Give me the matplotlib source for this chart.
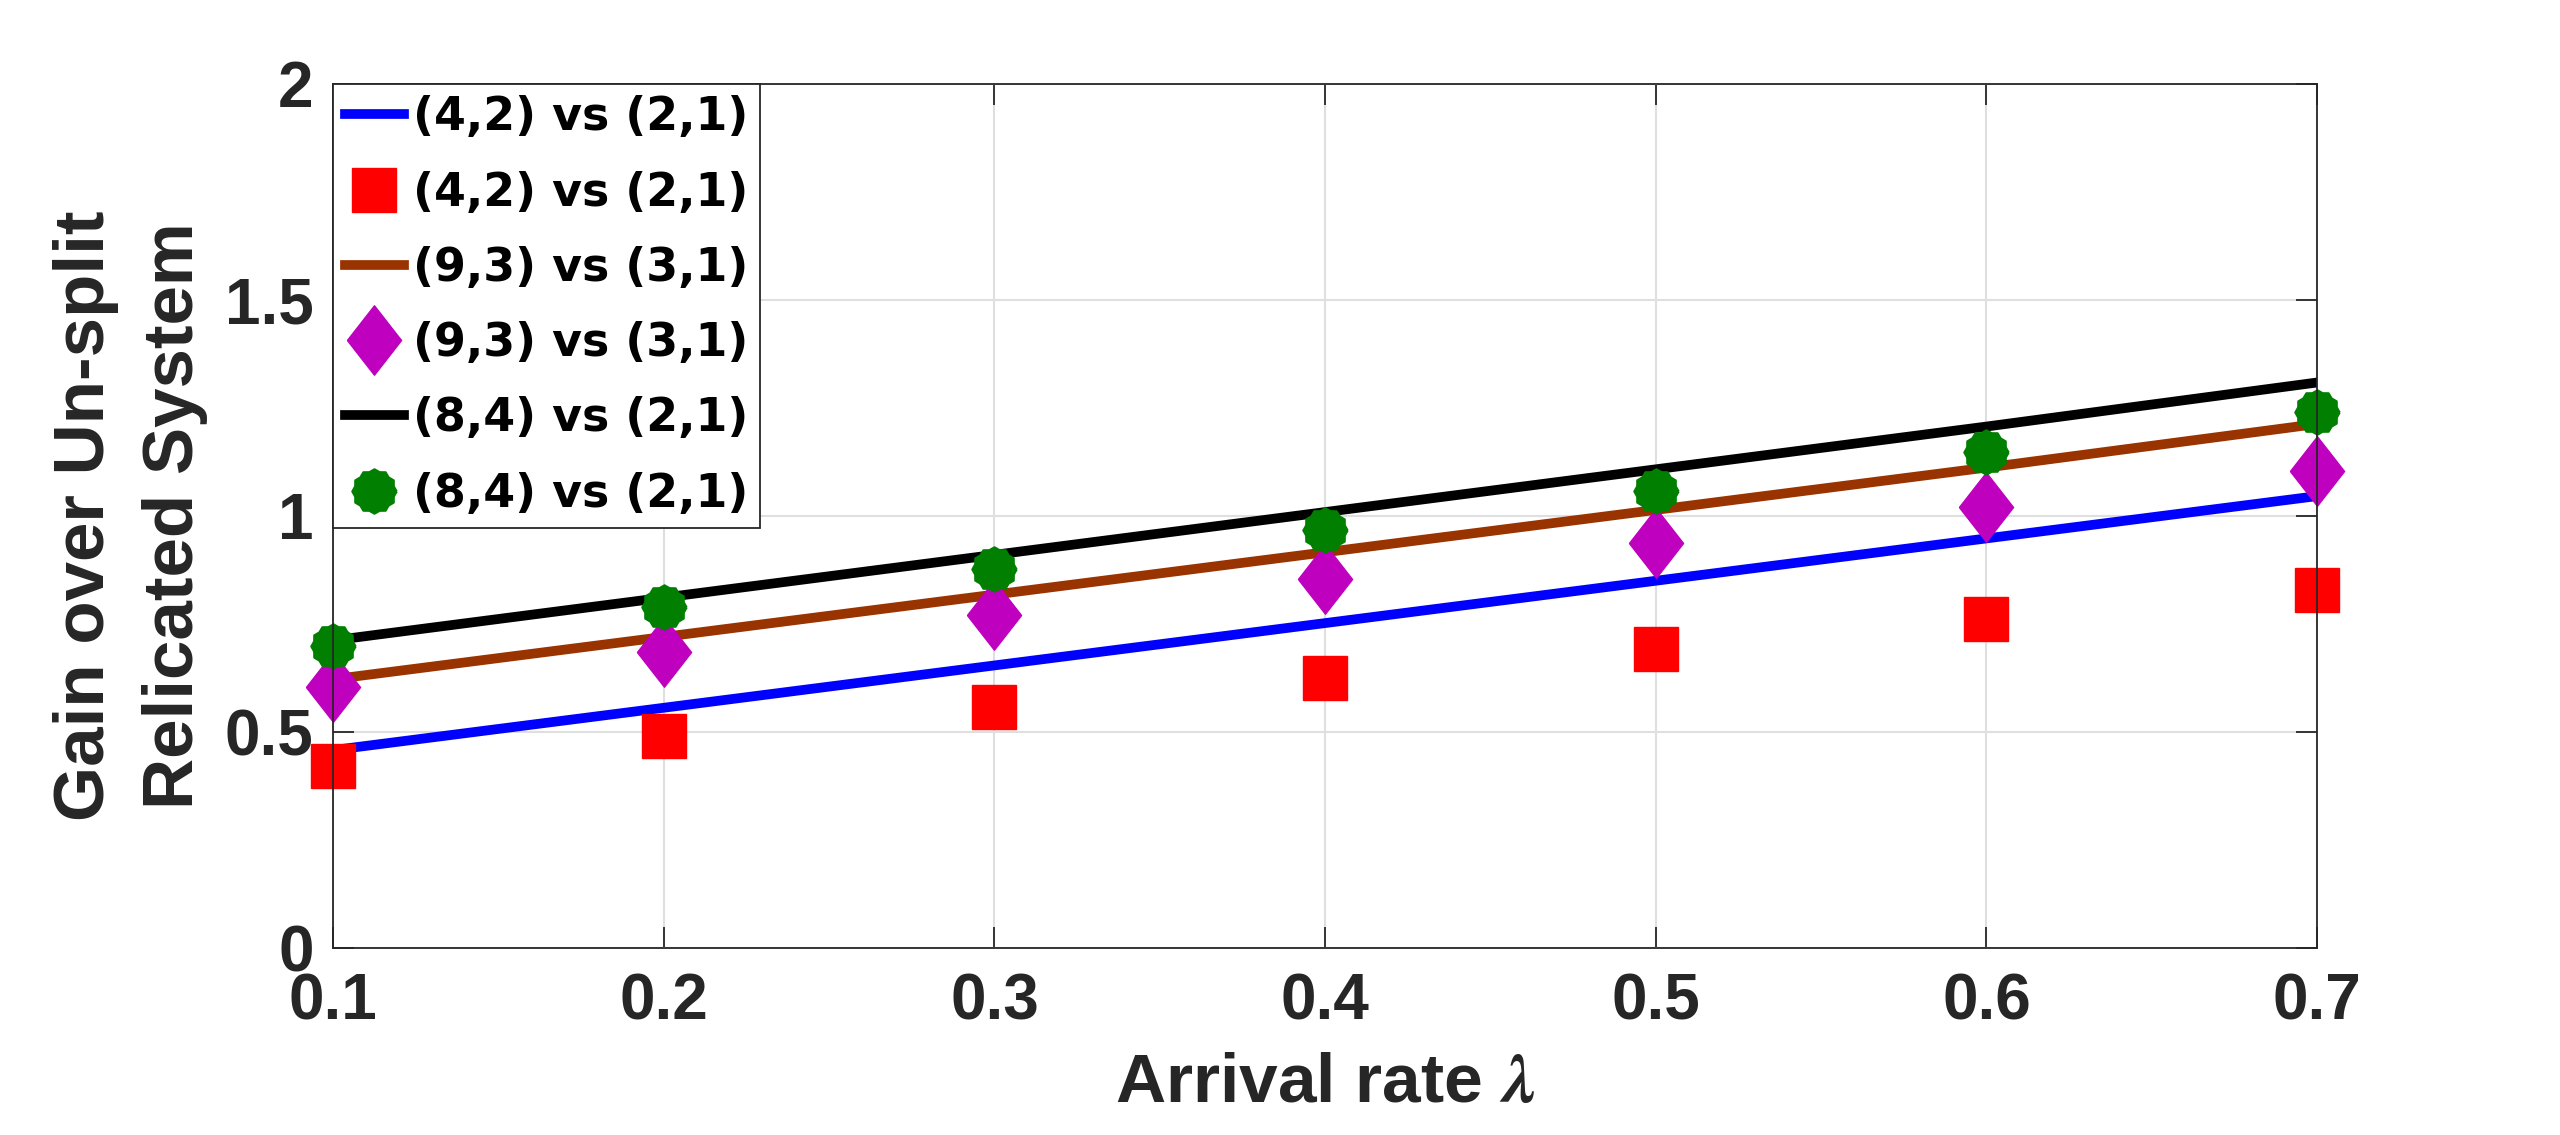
import matplotlib
matplotlib.use('Agg')
import matplotlib.pyplot as plt
import numpy as np

# data
lam = [0.1, 0.2, 0.3, 0.4, 0.5, 0.6, 0.7]
line_42 = [0.458, 0.556, 0.654, 0.752, 0.850, 0.948, 1.046]
pts_42 = [0.422, 0.490, 0.557, 0.625, 0.692, 0.761, 0.828]
line_93 = [0.622, 0.720, 0.818, 0.916, 1.014, 1.112, 1.213]
pts_93 = [0.603, 0.684, 0.770, 0.853, 0.937, 1.021, 1.104]
line_84 = [0.712, 0.811, 0.910, 1.009, 1.108, 1.207, 1.309]
pts_84 = [0.699, 0.789, 0.878, 0.967, 1.058, 1.148, 1.241]
label_42 = '(4,2) vs (2,1)'
label_93 = '(9,3) vs (3,1)'
label_84 = '(8,4) vs (2,1)'

DARK = '#262626'
plt.rcParams['font.family'] = ['Liberation Sans', 'DejaVu Sans']
plt.rcParams['font.weight'] = 'bold'
plt.rcParams['mathtext.fontset'] = 'stix'

# tall diamond (matlab 'd') and spiky circle (matlab hexagram look)
diamond = [(-0.39, 0), (0, 0.5), (0.39, 0), (0, -0.5), (-0.39, 0)]
ang = np.linspace(0, 2 * np.pi, 25)
rad = np.where(np.arange(25) % 2 == 0, 0.5, 0.45)
spiky = list(zip(rad * np.cos(ang), rad * np.sin(ang)))

fig = plt.figure(figsize=(25.6, 11.35), dpi=100, facecolor='white')
ax = fig.add_axes([0.1301, 0.1648, 0.775, 0.7612])

ax.plot(lam, line_42, color=(0, 0, 1), lw=7, label=label_42)
ax.plot(lam, pts_42, ls='none', marker='s', ms=32, color=(1, 0, 0), mec=(1, 0, 0),
        label=label_42, clip_on=False)
ax.plot(lam, line_93, color='#993300', lw=7, label=label_93)
ax.plot(lam, pts_93, ls='none', marker=diamond, ms=50, color='#bf00bf', mec='#bf00bf',
        label=label_93, clip_on=False)
ax.plot(lam, line_84, color='black', lw=7, label=label_84)
ax.plot(lam, pts_84, ls='none', marker=spiky, ms=32, color='#007f00', mec='#007f00', mew=1.5,
        label=label_84, clip_on=False)

ax.set_xlim(0.1, 0.7)
ax.set_ylim(0, 2)
ax.set_xticks(lam)
ax.set_xticklabels([str(v) for v in lam])
ax.set_yticks([0, 0.5, 1, 1.5, 2])
ax.set_yticklabels(['0', '0.5', '1', '1.5', '2'])
ax.grid(True, color='#dfdfdf', lw=1.5)
ax.set_axisbelow(True)
for s in ax.spines.values():
    s.set_color(DARK)
    s.set_linewidth(1.3)
ax.tick_params(axis='both', which='both', direction='in', length=15, width=1.3,
               color=DARK, top=True, right=True, labelcolor=DARK, labelsize=46)
ax.tick_params(axis='x', pad=18)
ax.tick_params(axis='y', pad=14)
for t in ax.get_xticklabels() + ax.get_yticklabels():
    t.set_fontweight('bold')

ax.set_xlabel('Arrival rate $\\lambda$', fontsize=50, fontweight='bold', color=DARK, labelpad=14)
ax.set_ylabel('Gain over Un-split\nRelicated System', fontsize=51, fontweight='bold',
              color=DARK, labelpad=12, linespacing=1.45)

leg = ax.legend(loc='upper left', borderaxespad=0, fancybox=False, framealpha=1,
                edgecolor=DARK, handlelength=1.3, handletextpad=0.2, borderpad=0.25,
                labelspacing=0.66, prop={'family': 'DejaVu Sans', 'weight': 'bold', 'size': 33})
leg.get_frame().set_linewidth(1.3)

plt.savefig('out.png', dpi=100, facecolor='white')
